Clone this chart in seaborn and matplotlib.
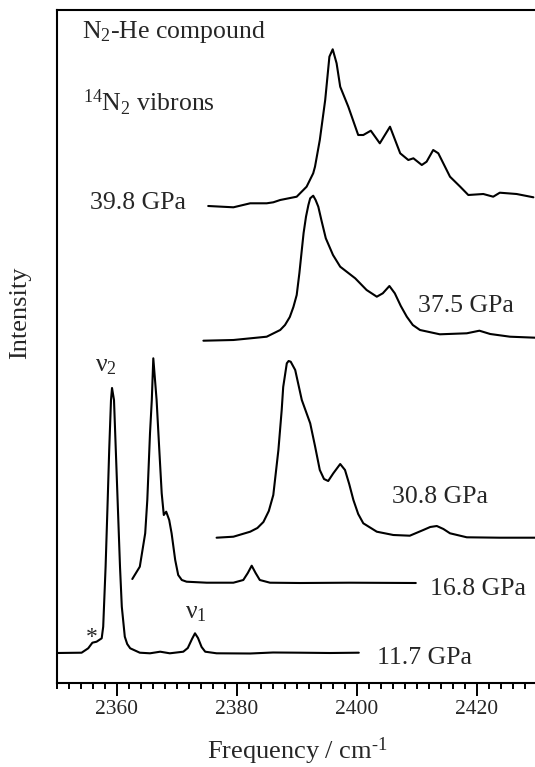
import matplotlib
matplotlib.use("Agg")
import matplotlib.pyplot as plt
import seaborn as sns
from matplotlib.ticker import MultipleLocator

# ---- spectra (frequency in cm^-1, intensity above baseline, a.u.) ----
freq_117 = [2350, 2354.1, 2355.2, 2355.9, 2356.6, 2357.45, 2357.7, 2358.1, 2358.45, 2358.7,
            2359.0, 2359.17, 2359.5, 2359.8, 2360.2, 2360.5, 2360.8, 2361.3, 2361.7, 2362.2,
            2363.8, 2365.5, 2367.2, 2368.8, 2371.05, 2371.8, 2372.5, 2373.0, 2373.5, 2374.1,
            2374.7, 2376.6, 2382.2, 2386.0, 2390.5, 2395.5, 2400.3]
int_117 = [0, 0.3, 4.7, 10.3, 11.3, 14.7, 26.3, 86.3, 153, 203,
           253, 265, 253, 203, 136.3, 86.3, 46.3, 16.3, 9, 4.7,
           0.3, -0.3, 1.3, -0.3, 1.3, 5, 14, 19.7, 15, 6,
           1.3, -0.3, -0.5, 0.5, 0.3, 0, 0.3]

freq_168 = [2362.55, 2363.8, 2364.7, 2365.05, 2365.5, 2365.8, 2366.05, 2366.6, 2367.05, 2367.45,
            2367.8, 2368.2, 2368.7, 2369.1, 2369.7, 2370.2, 2370.8, 2371.6, 2374.95, 2379.4,
            2381.05, 2381.8, 2382.45, 2383.1, 2383.8, 2385.5, 2390.5, 2398.8, 2409.8]
int_168 = [4, 16.3, 49.7, 83, 149.7, 183, 224.7, 183, 133, 89.7,
           68, 71.3, 63, 49.7, 23, 8, 3, 1.3, 0.3, 0.3,
           3, 10, 17.3, 10, 3, 0.3, 0, 0.3, 0]

freq_308 = [2376.6, 2379.4, 2382.2, 2383.4, 2384.4, 2385.3, 2386.05, 2386.9, 2387.45, 2387.7,
            2388.3, 2388.6, 2388.95, 2389.7, 2390.8, 2392.2, 2393.0, 2393.8, 2394.5, 2395.2,
            2396.05, 2397.2, 2398.0, 2398.7, 2399.4, 2400.2, 2401.05, 2403.3, 2406.05, 2408.8,
            2411.05, 2412.2, 2413.3, 2414.4, 2415.5, 2418.3, 2423.8, 2429.7]
int_308 = [0.3, 1.3, 6.3, 10, 16, 27, 43, 88, 128, 151,
           174.7, 177, 176.3, 168, 138, 114.7, 92, 68, 59, 57,
           64.7, 74, 68, 54, 38, 24, 14.7, 6.3, 3, 2.3,
           8, 11, 12, 9, 4.7, 0.7, 0.3, 0.3]

freq_375 = [2374.4, 2379.4, 2384.95, 2387.2, 2388.0, 2388.8, 2389.4, 2389.95, 2390.4, 2390.8,
            2391.1, 2391.5, 2391.9, 2392.2, 2392.7, 2393.1, 2393.55, 2394.1, 2394.8, 2396.0,
            2397.2, 2399.7, 2401.6, 2403.3, 2404.3, 2405.4, 2406.3, 2407.3, 2408.3, 2409.3,
            2410.5, 2413.8, 2418.3, 2420.4, 2422.2, 2425.5, 2429.7]
int_375 = [0.3, 1, 4.3, 11, 16, 24, 34, 46, 68, 91,
           108, 124.3, 136, 142.7, 145.3, 141, 134.3, 120, 102.7, 86,
           74.3, 62.7, 51, 44.3, 47.7, 55, 47.7, 35, 24.3, 16,
           11, 6.7, 7.7, 10.3, 7, 4.3, 3.3]

freq_398 = [2375.2, 2379.4, 2382.2, 2384.95, 2386.05, 2387.2, 2389.95, 2391.6, 2392.7, 2393.0,
            2393.8, 2394.7, 2395.4, 2395.95, 2396.6, 2397.2, 2398.55, 2400.2, 2401.05, 2402.3,
            2403.8, 2405.5, 2407.2, 2408.55, 2409.4, 2410.8, 2411.6, 2412.7, 2413.55, 2415.5,
            2417.2, 2418.55, 2421.05, 2422.7, 2423.8, 2426.6, 2429.4]
int_398 = [0, -1.3, 2.7, 2.7, 3.7, 6, 9.3, 19.3, 32.7, 39.3,
           66, 106, 149.3, 156.7, 142.7, 119.3, 99.3, 71, 71, 75.3,
           62.7, 79.3, 52.7, 46, 47.7, 41, 44.3, 56, 52.7, 29.3,
           19.3, 11, 12, 9.3, 13.3, 12, 8.7]

pressures = ["11.7 GPa", "16.8 GPa", "30.8 GPa", "37.5 GPa", "39.8 GPa"]
offsets = [30, 100, 145, 342, 477]

sns.set_theme(style="ticks")
plt.rcParams["font.family"] = ["Liberation Serif", "DejaVu Serif"]
plt.rcParams["mathtext.fontset"] = "custom"
plt.rcParams["mathtext.rm"] = "Liberation Serif"
plt.rcParams["mathtext.it"] = "Liberation Serif:italic"
plt.rcParams["mathtext.bf"] = "Liberation Serif:bold"

fig = plt.figure(figsize=(5.35, 7.67), dpi=100)
ax = fig.add_axes([57 / 535, 84 / 767, 480 / 535, 673 / 767])

traces = [(freq_117, int_117), (freq_168, int_168), (freq_308, int_308),
          (freq_375, int_375), (freq_398, int_398)]
for (fr, it), off in zip(traces, offsets):
    sns.lineplot(x=fr, y=[v + off for v in it], ax=ax, color="black", lw=1.5,
                 estimator=None, sort=False)

ax.set_xlim(2350, 2430)
ax.set_ylim(0, 673)
ax.xaxis.set_major_locator(MultipleLocator(20))
ax.xaxis.set_minor_locator(MultipleLocator(2))
ax.tick_params(axis="x", which="major", direction="out", length=9, width=1.4,
               labelsize=15.5, pad=3, color="black")
ax.tick_params(axis="x", which="minor", direction="out", length=4.5, width=1.4, color="black")
ax.set_yticks([])
for side in ["left", "bottom", "top", "right"]:
    ax.spines[side].set_visible(True)
    ax.spines[side].set_linewidth(1.5)
    ax.spines[side].set_color("black")

ax.set_xlabel(r"Frequency / cm$^{\text{-}1}$", fontsize=19, labelpad=12)
fig.text(20.5 / 535, 1 - 313 / 767, "Intensity", rotation=90, ha="center", va="center",
         fontsize=19)

# pressure labels
label_pos = [(2403.3, 19), (2412.2, 88), (2405.8, 179.7), (2410.2, 371.3), (2355.5, 473.7)]
for lab, (lx, ly) in zip(pressures, label_pos):
    ax.text(lx, ly, lab, fontsize=18.5, ha="left", va="baseline")

ax.text(2354.2, 644.7, r"$\mathrm{N_2}$-He compound", fontsize=18.5, ha="left", va="baseline")
ax.text(2354.3, 571.3, r"$^{14}\mathrm{N}_2$ vibrons", fontsize=18.5, ha="left", va="baseline")
ax.text(2356.3, 311.3, "ν$_2$", fontsize=18.5, ha="left", va="baseline")
ax.text(2371.3, 65, "ν$_1$", fontsize=18.5, ha="left", va="baseline")
ax.text(2355.8, 40, "*", fontsize=17, ha="center", va="baseline")

fig.savefig("out.png", dpi=100)
